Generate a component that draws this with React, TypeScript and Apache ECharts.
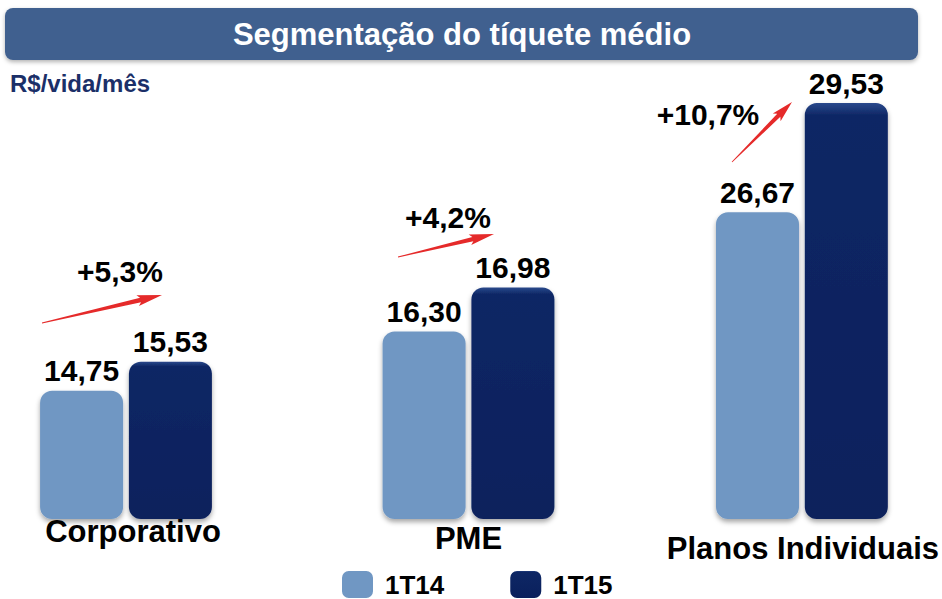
import React, { useEffect, useRef } from "react";
import * as echarts from "echarts";

const categories = ["Corporativo", "PME", "Planos Individuais"];
const seriesNames = ["1T14", "1T15"];
const values1T14 = [14.75, 16.3, 26.67];
const values1T15 = [15.53, 16.98, 29.53];
const growthLabels = ["+5,3%", "+4,2%", "+10,7%"];
const titleText = "Segmentação do tíquete médio";
const unitText = "R$/vida/mês";

// layout (positions/styles only)
const groupCenters = [126, 468.5, 802.5];
const axisMin = [11.31, 13.41, 18.64];
const axisMax = [22.55, 19.87, 29.61];
const labelMargins = [-3, 4, 14];
const labelShift = [14, 0, 2];
const arrows = [
  { tail: [42, 323], tip: [162, 295], text: [120, 271] },
  { tail: [398, 257], tip: [494, 234], text: [448, 217] },
  { tail: [732, 162], tip: [792, 102], text: [708, 114] },
];

const FONT = '"Liberation Sans", Arial, sans-serif';
const LIGHT = "#7097c3";
const DARK = {
  type: "linear",
  x: 0,
  y: 0,
  x2: 0,
  y2: 1,
  colorStops: [
    { offset: 0, color: "#2a498c" },
    { offset: 0.03, color: "#0e2765" },
    { offset: 1, color: "#0a205c" },
  ],
};

function arrowPoints(t: number[], p: number[]) {
  const dx = p[0] - t[0];
  const dy = p[1] - t[1];
  const len = Math.sqrt(dx * dx + dy * dy);
  const ux = dx / len;
  const uy = dy / len;
  const nx = -uy;
  const ny = ux;
  const headLen = Math.min(22, len * 0.22);
  const nk = [p[0] - ux * headLen, p[1] - uy * headLen];
  const pt = (b: number[], w: number) => [b[0] + nx * w, b[1] + ny * w];
  return [
    pt(t, 0.4),
    pt(nk, 2.2),
    pt([nk[0] - ux * 3, nk[1] - uy * 3], 5.5),
    p,
    pt([nk[0] - ux * 3, nk[1] - uy * 3], -5.5),
    pt(nk, -2.2),
    pt(t, -0.4),
  ];
}

const fmt = (v: number) => v.toFixed(2).replace(".", ",");

export default function App() {
  const ref = useRef<HTMLDivElement>(null);
  useEffect(() => {
    if (!ref.current) return;
    const chart = echarts.init(ref.current, undefined, { renderer: "svg" });
    const grids = categories.map((_, i) => ({
      left: groupCenters[i] - 100,
      width: 200,
      top: 100,
      height: 419,
    }));
    const xAxes = categories.map((c, i) => ({
      type: "category",
      gridIndex: i,
      data: [c],
      axisLine: { show: false },
      axisTick: { show: false },
      axisLabel: {
        margin: labelMargins[i],
        color: "#000",
        fontFamily: FONT,
        fontWeight: "bold",
        fontSize: 31,
        padding: [0, 0, 0, labelShift[i]],
      },
    }));
    const yAxes = categories.map((_, i) => ({
      type: "value",
      gridIndex: i,
      min: axisMin[i],
      max: axisMax[i],
      show: false,
    }));
    const series: any[] = [];
    categories.forEach((_, i) => {
      [values1T14, values1T15].forEach((vals, s) => {
        series.push({
          type: "bar",
          name: seriesNames[s],
          xAxisIndex: i,
          yAxisIndex: i,
          data: [vals[i]],
          barWidth: 83,
          barGap: "7%",
          itemStyle: {
            color: s === 0 ? LIGHT : DARK,
            borderRadius: 12,
            shadowColor: "rgba(0,0,0,0.35)",
            shadowBlur: 5,
            shadowOffsetY: 3,
          },
          label: {
            show: true,
            position: "top",
            distance: 5,
            formatter: (p: any) => fmt(p.value),
            color: "#000",
            fontFamily: FONT,
            fontWeight: "bold",
            fontSize: 30,
          },
        });
      });
    });
    const graphics: any[] = [
      {
        type: "rect",
        shape: { x: 5, y: 8, width: 913, height: 52, r: 8 },
        style: {
          fill: "#41608f",
          shadowColor: "rgba(0,0,0,0.3)",
          shadowBlur: 4,
          shadowOffsetY: 2,
        },
      },
      {
        type: "text",
        x: 462,
        y: 34,
        style: {
          text: titleText,
          fill: "#fff",
          font: `bold 31px ${FONT}`,
          textAlign: "center",
          textVerticalAlign: "middle",
        },
      },
      {
        type: "text",
        x: 10,
        y: 83,
        style: {
          text: unitText,
          fill: "#1b2f68",
          font: `bold 24px ${FONT}`,
          textAlign: "left",
          textVerticalAlign: "middle",
        },
      },
    ];
    arrows.forEach((a, i) => {
      graphics.push({
        type: "polygon",
        shape: { points: arrowPoints(a.tail, a.tip) },
        style: { fill: "#e52a2a" },
      });
      graphics.push({
        type: "text",
        x: a.text[0],
        y: a.text[1],
        style: {
          text: growthLabels[i],
          fill: "#000",
          font: `bold 30px ${FONT}`,
          textAlign: "center",
          textVerticalAlign: "middle",
        },
      });
    });
    chart.setOption({
      animation: false,
      backgroundColor: "#fff",
      grid: grids,
      xAxis: xAxes,
      yAxis: yAxes,
      legend: {
        data: seriesNames,
        left: 337,
        top: 566,
        itemWidth: 31,
        itemHeight: 27,
        itemGap: 66,
        icon: "roundRect",
        textStyle: {
          color: "#000",
          fontFamily: FONT,
          fontWeight: "bold",
          fontSize: 26,
          lineHeight: 26,
          padding: [0, 0, 0, 7],
        },
      },
      series,
      graphic: graphics,
    });
    return () => chart.dispose();
  }, []);
  return (
    <div
      ref={ref}
      style={{ position: "fixed", left: 0, top: 0, width: 942, height: 599 }}
    />
  );
}
